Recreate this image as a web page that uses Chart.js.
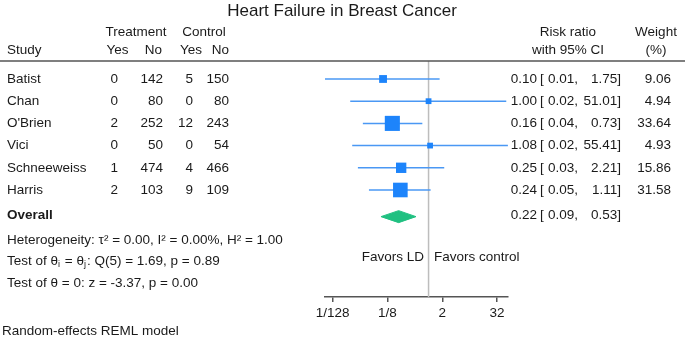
<!DOCTYPE html>
<html>
<head>
<meta charset="utf-8">
<script src="https://cdn.jsdelivr.net/npm/chart.js@4"></script>
<style>
body { margin: 0; background: white; }
#wrap { width: 685px; height: 343px; position: relative; }
</style>
</head>
<body>
<div id="wrap"><canvas id="forest"></canvas></div>
<script>
var studies = ['Batist', 'Chan', "O'Brien", 'Vici', 'Schneeweiss', 'Harris'];
var treatYes = [0, 0, 2, 0, 1, 2];
var treatNo = [142, 80, 252, 50, 474, 103];
var ctrlYes = [5, 0, 12, 0, 4, 9];
var ctrlNo = [150, 80, 243, 54, 466, 109];
var riskRatio = [0.10, 1.00, 0.16, 1.08, 0.25, 0.24];
var ciLow = [0.0053, 0.019, 0.036, 0.021, 0.028, 0.049];
var ciHigh = [1.75, 51.01, 0.73, 55.41, 2.21, 1.11];
var weights = [9.06, 4.94, 33.64, 4.93, 15.86, 31.58];
var overallRR = 0.22, overallLow = 0.09, overallHigh = 0.53;
var tickValues = [1/128, 1/8, 2, 32];
var tickLabels = ['1/128', '1/8', '2', '32'];

var rowTop = 0.19, rowBottom = 10.82, overallRow = 7.2, favorsRow = 9.02;
var FONT = '"Liberation Sans", Arial, Helvetica, sans-serif';
var INK = '#1a1a1a';

var datasets = [];
// boxes (drawn on top, so first)
datasets.push({
    label: 'Risk ratio',
    data: riskRatio.map(function (v, i) { return {x: v, y: i + 1}; }),
    pointStyle: 'rect',
    pointRadius: weights.map(function (w) { return 2.6 * Math.sqrt(w) / Math.SQRT2; }),
    backgroundColor: '#1d84fb',
    borderColor: '#1d84fb',
    borderWidth: 0
});
// overall diamond
datasets.push({
    label: 'Overall',
    showLine: true,
    fill: 'shape',
    data: [
        {x: overallLow, y: overallRow}, {x: overallRR, y: overallRow - 0.27},
        {x: overallHigh, y: overallRow}, {x: overallRR, y: overallRow + 0.27},
        {x: overallLow, y: overallRow}
    ],
    backgroundColor: '#20c081',
    borderColor: '#20c081',
    borderWidth: 1,
    pointRadius: 0
});
// confidence intervals
studies.forEach(function (s, i) {
    datasets.push({
        label: s + ' CI',
        showLine: true,
        data: [{x: ciLow[i], y: i + 1}, {x: ciHigh[i], y: i + 1}],
        borderColor: '#4a98f4',
        borderWidth: 1.5,
        pointRadius: 0
    });
});
// no-effect line
datasets.push({
    label: 'No effect',
    showLine: true,
    data: [{x: 1, y: rowTop}, {x: 1, y: rowBottom}],
    borderColor: '#bdbdbd',
    borderWidth: 1.5,
    pointRadius: 0
});

var textPlugin = {
    id: 'forestText',
    afterDraw: function (chart) {
        var ctx = chart.ctx;
        var ys = chart.scales.y;
        ctx.save();
        ctx.fillStyle = INK;
        ctx.textBaseline = 'middle';

        function txt(s, x, y, align, font) {
            ctx.font = font || ('13.5px ' + FONT);
            ctx.textAlign = align || 'left';
            ctx.fillText(s, x, y);
        }

        // title
        txt('Heart Failure in Breast Cancer', 342, 11, 'center', '17px ' + FONT);

        // headers
        txt('Treatment', 136, 32, 'center');
        txt('Control', 204, 32, 'center');
        txt('Study', 7, 50);
        txt('Yes', 117.5, 50, 'center');
        txt('No', 162, 50, 'right');
        txt('Yes', 191, 50, 'center');
        txt('No', 229, 50, 'right');
        txt('Risk ratio', 568, 32, 'center');
        txt('with 95% CI', 568, 50, 'center');
        txt('Weight', 656, 32, 'center');
        txt('(%)', 656, 50, 'center');

        // header rule
        ctx.strokeStyle = '#555';
        ctx.lineWidth = 1.5;
        ctx.beginPath();
        ctx.moveTo(0, 61);
        ctx.lineTo(685, 61);
        ctx.stroke();

        function ciText(est, lo, hi, y) {
            txt(est.toFixed(2), 537, y, 'right');
            txt('[', 540, y);
            txt(lo.toFixed(2) + ',', 548, y);
            txt(hi.toFixed(2) + ']', 621, y, 'right');
        }

        // study rows
        studies.forEach(function (s, i) {
            var y = ys.getPixelForValue(i + 1);
            txt(s, 7, y);
            txt(String(treatYes[i]), 118, y, 'right');
            txt(String(treatNo[i]), 163, y, 'right');
            txt(String(ctrlYes[i]), 193, y, 'right');
            txt(String(ctrlNo[i]), 229, y, 'right');
            ciText(riskRatio[i], ciLow[i], ciHigh[i], y);
            txt(weights[i].toFixed(2), 671, y, 'right');
        });

        // overall row
        var yo = ys.getPixelForValue(overallRow);
        txt('Overall', 7, yo - 1, 'left', 'bold 13.5px ' + FONT);
        ciText(overallRR, overallLow, overallHigh, yo - 1);

        // statistics
        txt('Heterogeneity: \u03c4\u00b2 = 0.00, I\u00b2 = 0.00%, H\u00b2 = 1.00', 7, 240);
        var x = 7, y2 = 261;
        var parts = [['Test of \u03b8', 0], ['i', 1], [' = \u03b8', 0], ['j', 1], [': Q(5) = 1.69, p = 0.89', 0]];
        parts.forEach(function (p) {
            ctx.font = (p[1] ? '9px ' : '13.5px ') + FONT;
            ctx.textAlign = 'left';
            ctx.fillText(p[0], x, p[1] ? y2 + 4 : y2);
            x += ctx.measureText(p[0]).width + (p[1] ? 1 : 0);
        });
        txt('Test of \u03b8 = 0: z = -3.37, p = 0.00', 7, 283);
        txt('Random-effects REML model', 2, 331);

        // favors labels
        var yf = ys.getPixelForValue(favorsRow);
        txt('Favors LD', 424, yf, 'right');
        txt('Favors control', 434, yf, 'left');
        ctx.restore();
    }
};

var chart_forest = new Chart(document.getElementById('forest'), {
    type: 'scatter',
    data: { datasets: datasets },
    options: {
        animation: false,
        responsive: true,
        maintainAspectRatio: false,
        layout: { padding: { left: 325, right: 177, top: 61, bottom: 16 } },
        plugins: {
            legend: { display: false },
            tooltip: { enabled: false }
        },
        scales: {
            x: {
                type: 'logarithmic',
                min: 0.0053,
                max: 55.7,
                afterBuildTicks: function (axis) {
                    axis.ticks = tickValues.map(function (v) { return {value: v}; });
                },
                afterFit: function (axis) { axis.height = 30; },
                ticks: {
                    autoSkip: false,
                    maxRotation: 0,
                    color: INK,
                    font: { family: FONT, size: 13.5 },
                    padding: 3,
                    callback: function (value, index) { return tickLabels[index]; }
                },
                grid: { drawOnChartArea: false, tickLength: 5, color: '#555', lineWidth: 1.5 },
                border: { color: '#555', width: 1.5 }
            },
            y: {
                type: 'linear',
                display: false,
                reverse: true,
                min: rowTop,
                max: rowBottom
            }
        }
    },
    plugins: [textPlugin]
});
</script>
</body>
</html>
